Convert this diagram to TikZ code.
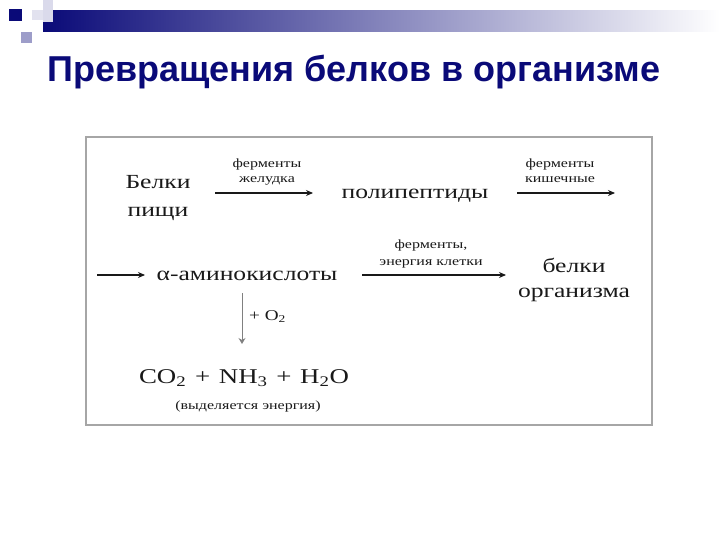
\documentclass[tikz,border=0pt]{standalone}
\usepackage{fontspec}
\setmainfont{Liberation Serif}
\newfontfamily\wideserif[FakeStretch=1.28]{Liberation Serif}
\newfontfamily\titlefont{Liberation Sans}
\usetikzlibrary{arrows.meta}
\definecolor{navy}{RGB}{10,10,120}
\definecolor{inkgray}{RGB}{25,25,25}
\tikzset{
  big/.style={font=\wideserif\fontsize{20}{28}\selectfont, text=inkgray, align=center, inner sep=0pt, anchor=base},
  small/.style={font=\wideserif\fontsize{12.5}{15}\selectfont, text=inkgray, align=center, inner sep=0pt, anchor=base},
  reac/.style={-{Stealth[length=7pt,width=6pt]}, inkgray, line width=1.2pt}
}
\begin{document}
\begin{tikzpicture}[x=1pt,y=-1pt]
\useasboundingbox (0,0) rectangle (720,540);
% draws header decoration
\fill[left color=navy, right color=white] (43,11) rectangle (720,32);
\fill[navy!15] (43,0) rectangle (53,22);
\fill[navy!12] (32,10) rectangle (43,20);
\fill[navy!40] (21,32) rectangle (32,43);
\fill[navy] (9,9) rectangle (22,21);
% title
\node[font=\titlefont\bfseries\fontsize{36}{40}\selectfont, text=navy, anchor=base west, inner sep=0pt] (title) at (47,82) {Превращения белков в организме};
% draws frame
\draw[gray!70, line width=1.8pt] (86,137) rectangle (652,425);
% places coordinates
\coordinate (a1) at (215,193);
\coordinate (a2) at (313,193);
\coordinate (b1) at (517,193);
\coordinate (b2) at (615,193);
\coordinate (c1) at (97,275);
\coordinate (c2) at (145,275);
\coordinate (d1) at (362,275);
\coordinate (d2) at (506,275);
\coordinate (e1) at (242,293);
\coordinate (e2) at (242,344);
% draws substances (base = last line)
\node[big] (food) at (158,216) {Белки\\пищи};
\node[big] (pept) at (415,199) {полипептиды};
\node[big] (amino) at (247,280) {α-аминокислоты};
\node[big, font=\wideserif\fontsize{20}{25}\selectfont] (body) at (574,297) {белки\\организма};
\node[big, font=\wideserif\fontsize{21}{25}\selectfont] (prod) at (244,383) {CO\textsubscript{2}\hspace{2pt} + \hspace{2pt}NH\textsubscript{3}\hspace{2pt} + \hspace{2pt}H\textsubscript{2}O};
\node[small] (energy) at (248,409) {(выделяется энергия)};
% draws arrows
\draw[reac] (a1) to (a2);
\draw[reac] (b1) to (b2);
\draw[reac] (c1) to (c2);
\draw[reac] (d1) to (d2);
\draw[reac, gray, line width=0.9pt, -{Stealth[length=6pt,width=7pt]}] (e1) to (e2);
% labels arrows
\node[small] (lab1) at (267,183) {ферменты\\желудка};
\node[small] (lab2) at (560,183) {ферменты\\кишечные};
\node[small, font=\wideserif\fontsize{12.5}{17}\selectfont] (lab3) at (431,265) {ферменты,\\энергия клетки};
\node[font=\wideserif\fontsize{15}{17}\selectfont, text=inkgray, anchor=base west, inner sep=0pt] (oxy) at (249,320) {+ O\textsubscript{2}};
\end{tikzpicture}
\end{document}
